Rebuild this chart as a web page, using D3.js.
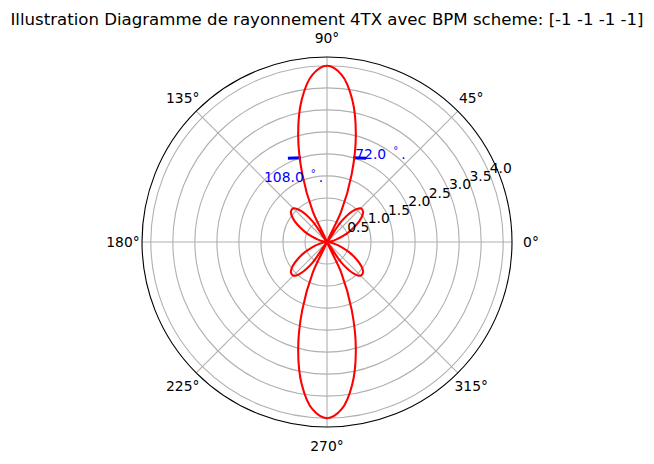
<!DOCTYPE html>
<html>
<head>
<meta charset="utf-8">
<script src="https://cdn.jsdelivr.net/npm/d3@7"></script>
<style>
  body { margin: 0; background: #fff; }
  text { font-family: "DejaVu Sans"; }
</style>
</head>
<body>
<svg width="654" height="464"></svg>
<script>
var titleText = "Illustration Diagramme de rayonnement 4TX avec BPM scheme: [-1 -1 -1 -1]";

// every 5 degrees from 0 to 360
var angles = d3.range(0, 365, 5);
var radii = [
  0, 0.02, 0.1, 0.21, 0.37, 0.56, 0.76, 0.95, 1.07, 1.08, 0.92, 0.57, 0, 0.76, 1.64, 2.53, 3.29, 3.81, 4.0,
  3.81, 3.29, 2.53, 1.64, 0.76, 0, 0.57, 0.92, 1.08, 1.07, 0.95, 0.76, 0.56, 0.37, 0.21, 0.1, 0.02, 0,
  0.02, 0.1, 0.21, 0.37, 0.56, 0.76, 0.95, 1.07, 1.08, 0.92, 0.57, 0, 0.76, 1.64, 2.53, 3.29, 3.81, 4.0,
  3.81, 3.29, 2.53, 1.64, 0.76, 0, 0.57, 0.92, 1.08, 1.07, 0.95, 0.76, 0.56, 0.37, 0.21, 0.1, 0.02, 0
];

var angleTicks = [0, 45, 90, 135, 180, 225, 270, 315];
var radiusTicks = [0.5, 1, 1.5, 2, 2.5, 3, 3.5, 4];
var radiusLabels = ["0.5", "1.0", "1.5", "2.0", "2.5", "3.0", "3.5", "4.0"];

// blue -3dB marks and their labels
var markAngles = [[72.8, 65], [107.2, 115]];
var markRadii = [[2, 2.1], [2, 2.1]];
var markLabels = ["72.0", "108.0"];
var markLabelAngles = [71.3, 136.4];
var markLabelRadii = [2, 1.975];

var svg = d3.select("svg"),
    cx = 327,
    cy = 242,
    outer = 185;

var r = d3.scaleLinear().domain([0, 4.2]).range([0, outer]);
var theta = d3.scaleLinear().domain([0, 360]).range([Math.PI / 2, Math.PI / 2 - 2 * Math.PI]);

function at(deg, rad) {
  return d3.pointRadial(theta(deg), r(rad));
}

svg.append("text")
    .attr("x", cx)
    .attr("y", 25)
    .attr("text-anchor", "middle")
    .attr("font-size", 16.6)
    .text(titleText);

var g = svg.append("g").attr("transform", "translate(" + cx + "," + cy + ")");

// grid
g.selectAll(".ring")
  .data(radiusTicks)
  .enter().append("circle")
    .attr("class", "ring")
    .attr("r", function(d) { return r(d); })
    .attr("fill", "none")
    .attr("stroke", "#b0b0b0")
    .attr("stroke-width", 1.11);

g.selectAll(".spoke")
  .data(angleTicks)
  .enter().append("line")
    .attr("class", "spoke")
    .attr("x2", function(d) { return d3.pointRadial(theta(d), outer)[0]; })
    .attr("y2", function(d) { return d3.pointRadial(theta(d), outer)[1]; })
    .attr("stroke", "#b0b0b0")
    .attr("stroke-width", 1.11);

// blue marks
var markLine = d3.lineRadial()
    .angle(function(d) { return theta(d[0]); })
    .radius(function(d) { return r(d[1]); });

g.selectAll(".mark")
  .data(markAngles)
  .enter().append("path")
    .attr("class", "mark")
    .attr("d", function(d, i) {
      return markLine(d.map(function(a, j) { return [a, markRadii[i][j]]; }));
    })
    .attr("fill", "none")
    .attr("stroke", "#0000ff")
    .attr("stroke-width", 3);

// red curve
var line = d3.lineRadial()
    .angle(function(d) { return theta(d); })
    .radius(function(d, i) { return r(radii[i]); })
    .curve(d3.curveCatmullRom.alpha(0.5));

g.append("path")
    .datum(angles)
    .attr("d", line)
    .attr("fill", "none")
    .attr("stroke", "#ff0000")
    .attr("stroke-width", 2.08);

// spine
g.append("circle")
    .attr("r", outer)
    .attr("fill", "none")
    .attr("stroke", "#000")
    .attr("stroke-width", 1.11);

// blue labels
var lab = g.selectAll(".marklabel")
  .data(markLabels)
  .enter().append("text")
    .attr("class", "marklabel")
    .attr("x", function(d, i) { return at(markLabelAngles[i], markLabelRadii[i])[0]; })
    .attr("y", function(d, i) { return at(markLabelAngles[i], markLabelRadii[i])[1]; })
    .attr("font-size", 13.89)
    .attr("fill", "#0000ff");
lab.append("tspan").text(function(d) { return d; });
lab.append("tspan")
    .attr("dx", 7)
    .attr("dy", -5)
    .attr("font-size", 10)
    .text("°");
lab.append("tspan")
    .attr("dx", 3)
    .attr("dy", 5)
    .text(".");

// angle labels
g.selectAll(".alabel")
  .data(angleTicks)
  .enter().append("text")
    .attr("class", "alabel")
    .attr("x", function(d) { return d3.pointRadial(theta(d), 204)[0]; })
    .attr("y", function(d) { return d3.pointRadial(theta(d), 204)[1]; })
    .attr("dy", "0.36em")
    .attr("text-anchor", "middle")
    .attr("font-size", 13.89)
    .text(function(d) { return d + "°"; });

// radius labels along 22.5 degrees
g.selectAll(".rlabel")
  .data(radiusTicks)
  .enter().append("text")
    .attr("class", "rlabel")
    .attr("x", function(d) { return at(22.5, d)[0] + 11; })
    .attr("y", function(d) { return at(22.5, d)[1] - 7; })
    .attr("dy", "0.36em")
    .attr("text-anchor", "middle")
    .attr("font-size", 13.89)
    .text(function(d, i) { return radiusLabels[i]; });
</script>
</body>
</html>
